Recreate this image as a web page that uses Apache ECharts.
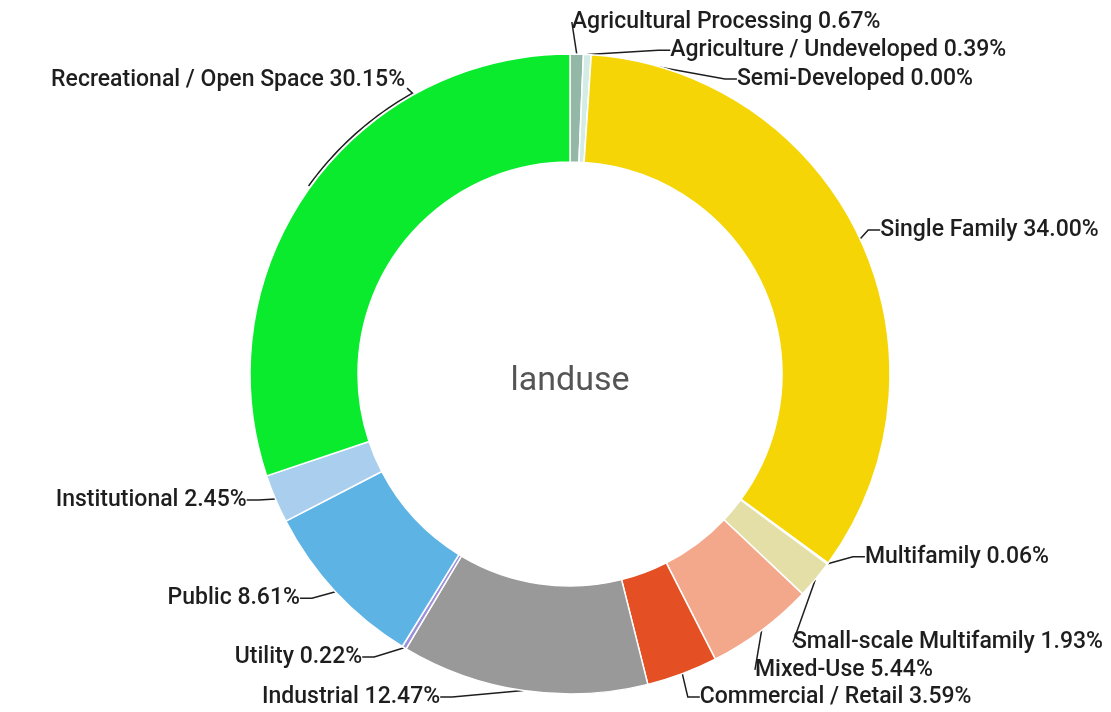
<!DOCTYPE html>
<html>
<head>
<meta charset="utf-8">
<script src="https://cdn.jsdelivr.net/npm/echarts@6/dist/echarts.min.js"></script>
<style>
  html, body { margin: 0; padding: 0; background: #fff; }
  #chart { width: 1111px; height: 712px; }
</style>
</head>
<body>
<div id="chart"></div>
<script>
// Land use shares (percent), listed clockwise from 12 o'clock
const categories = [
  'Agricultural Processing',
  'Agriculture / Undeveloped',
  'Semi-Developed',
  'Single Family',
  'Multifamily',
  'Small-scale Multifamily',
  'Mixed-Use',
  'Commercial / Retail',
  'Industrial',
  'Utility',
  'Public',
  'Institutional',
  'Recreational / Open Space'
];
const shares = [0.67, 0.39, 0.00, 34.00, 0.06, 1.93, 5.44, 3.59, 12.47, 0.22, 8.61, 2.45, 30.15];
const centerTitle = 'landuse';

const sliceColors = [
  '#93b8a8', '#d3ece6', '#c9d6d0', '#f5d506', '#e9c27a', '#e3dfa6',
  '#f4a88b', '#e45024', '#999999', '#9c90da', '#5db4e4', '#aacfee', '#0aeb2e'
];

// Ring geometry
const CX = 570, CY = 374, R_IN = 212, R_OUT = 320;

// Where each label sits around the ring: [angle in degrees clockwise from
// 12 o'clock, gap outside the ring in px]. Labels right of the centre are
// left-aligned, labels left of it right-aligned.
const labelSpots = [
  [0.3, 32], [17.2, 19], [29.5, 19], [65.1, 22], [121.8, 27], [140.3, 29],
  [148.0, 29], [158.1, 28], [201.9, 28], [216.3, 31], [230.3, 31], [248.7, 27], [330.7, 17]
];
// Labels whose leader runs along the outside of the ring up to the text
const arcLeaders = { 12: true };

const total = shares.reduce((s, v) => s + v, 0);

function polar(angleDeg, radius) {
  const a = angleDeg * Math.PI / 180;
  return [CX + radius * Math.sin(a), CY - radius * Math.cos(a)];
}

// Mid angle of a slice, degrees clockwise from 12 o'clock
function midAngle(i) {
  let before = 0;
  for (let k = 0; k < i; k++) before += shares[k];
  return (before + shares[i] / 2) / total * 360;
}

function labelAnchor(i) {
  const [x, y] = polar(labelSpots[i][0], R_OUT + labelSpots[i][1]);
  return { x, y, align: labelSpots[i][0] < 180 ? 'left' : 'right' };
}

function arcLeader(i, anchor) {
  const from = midAngle(i);
  let to = labelSpots[i][0];
  if (to < from) to += 360;
  const pts = [];
  const steps = 24;
  for (let s = 0; s <= steps; s++) {
    pts.push(polar(from + (to - from) * s / steps, R_OUT + 2));
  }
  pts.push([anchor.x + 2, anchor.y + 8]);
  return pts;
}

const chart = echarts.init(document.getElementById('chart'), null, { renderer: 'canvas' });

chart.setOption({
  animation: false,
  backgroundColor: '#ffffff',
  graphic: [{
    type: 'text',
    x: CX, y: CY + 7,
    style: {
      text: centerTitle,
      align: 'center',
      verticalAlign: 'middle',
      fontFamily: 'Roboto',
      fontSize: 34,
      fill: '#555555'
    }
  }],
  series: [{
    type: 'pie',
    center: [CX, CY],
    radius: [R_IN, R_OUT],
    startAngle: 90,
    clockwise: true,
    avoidLabelOverlap: false,
    itemStyle: { borderColor: '#ffffff', borderWidth: 1.5 },
    label: {
      show: true,
      position: 'outside',
      fontFamily: 'Roboto',
      fontSize: 23,
      fontWeight: 500,
      lineHeight: 27,
      color: '#1e1e1e',
      overflow: 'none',
      formatter: p => p.name + ' ' + p.value.toFixed(2) + '%'
    },
    labelLine: {
      show: true,
      length: 10,
      length2: 12,
      lineStyle: { color: '#1e1e1e', width: 1.5 }
    },
    labelLayout: params => {
      const i = params.dataIndex;
      const spot = labelAnchor(i);
      const out = { x: spot.x, y: spot.y, align: spot.align, verticalAlign: 'middle' };
      if (arcLeaders[i]) out.labelLinePoints = arcLeader(i, spot);
      return out;
    },
    emphasis: { disabled: true },
    data: categories.map((name, i) => ({
      name,
      value: shares[i],
      itemStyle: { color: sliceColors[i] }
    }))
  }]
});
</script>
</body>
</html>
